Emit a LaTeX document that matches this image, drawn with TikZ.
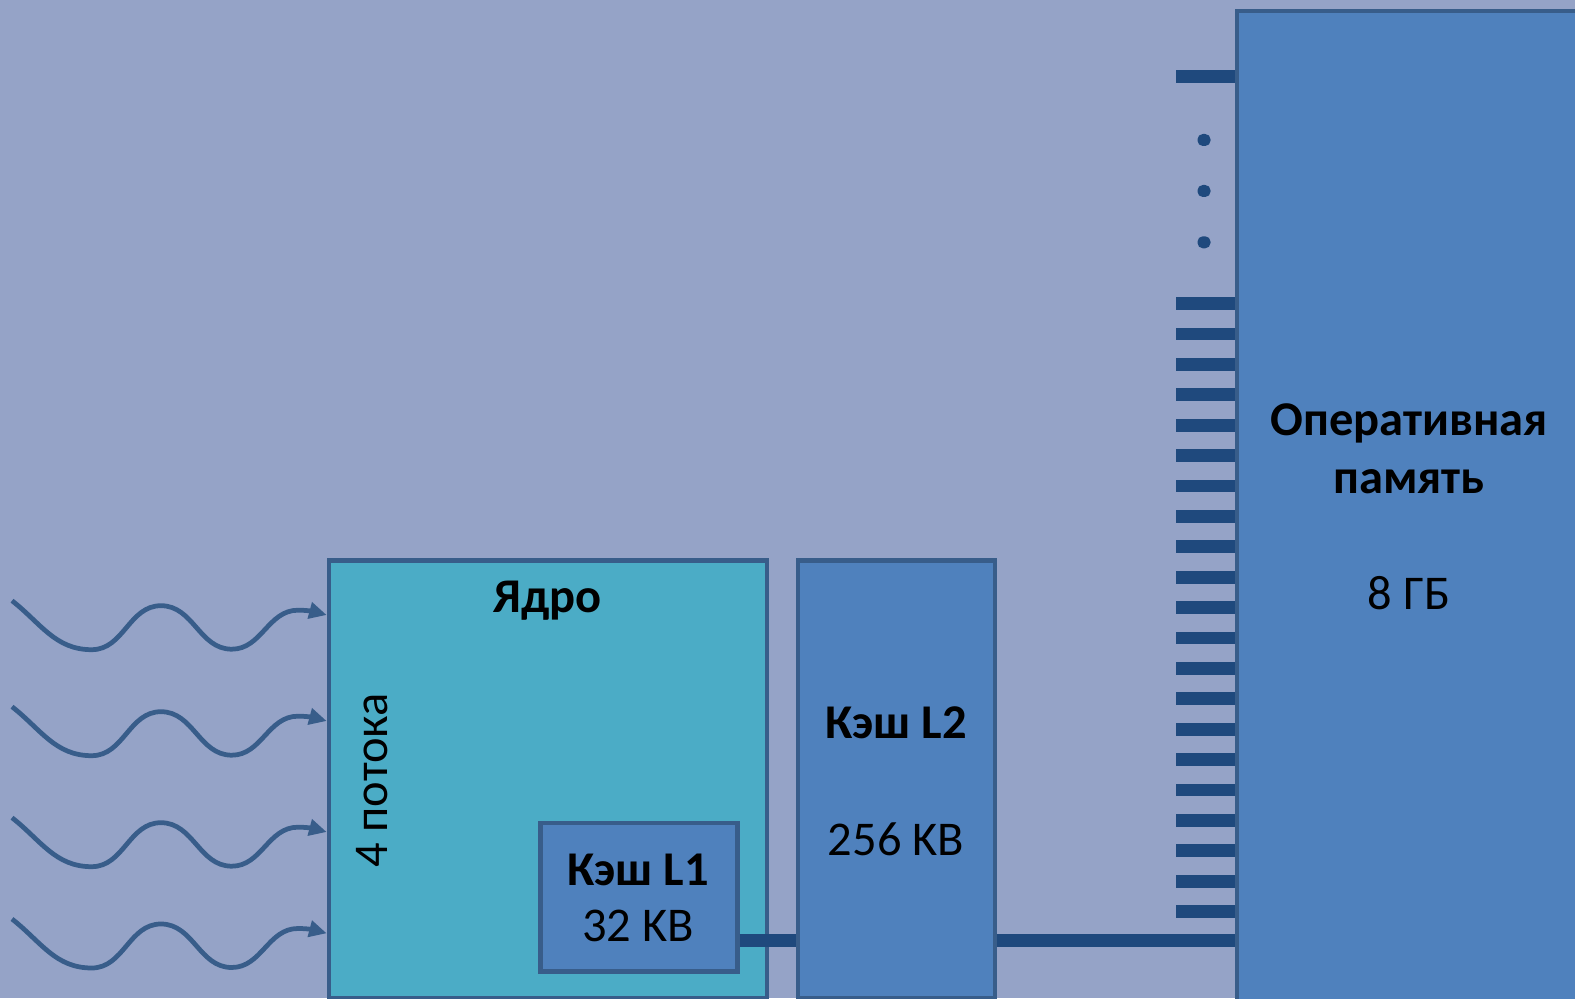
\documentclass[tikz,border=0pt]{standalone}
\usepackage{fontspec}
\setmainfont{Carlito}
\usetikzlibrary{arrows.meta,positioning,calc}
\definecolor{bgblue}{RGB}{149,163,199}
\definecolor{boxblue}{RGB}{79,129,189}
\definecolor{coreteal}{RGB}{75,172,198}
\definecolor{edgeblue}{RGB}{56,93,138}
\definecolor{busblue}{RGB}{31,73,125}

\begin{document}
\begin{tikzpicture}[x=1cm,y=1cm,
  unit/.style={draw=edgeblue,line width=1.2pt,fill=boxblue,inner sep=0pt,anchor=north west},
  bus/.style={busblue,line width=3.8pt},
  tick/.style={busblue,line width=3.6pt},
  wave/.style={edgeblue,line width=1.35pt,-{Triangle[length=5pt,width=4.6pt]}},
  lbl/.style={font=\fontsize{13.8}{16.5}\selectfont},
  blbl/.style={font=\fontsize{13.8}{16.5}\selectfont\bfseries}]
  \clip (0,0) rectangle (15.75,9.98);
  \fill[bgblue] (0,0) rectangle (15.75,9.98);
  % ---- core with L1, then L2 and memory
  \node[unit,fill=coreteal,minimum width=4.385cm,minimum height=4.375cm] (core) at (3.267,4.395) {};
  \node[unit,minimum width=1.97cm,minimum height=1.487cm] (l1) at (5.384,1.773) {};
  \node[unit,minimum width=1.97cm,minimum height=4.375cm] (l2) at (7.955,4.395) {};
  \node[unit,minimum width=4cm,minimum height=10.5cm] (ram) at (12.345,9.892) {};
  \node[blbl] (coretitle) at (5.475,3.973) {Ядро};
  \node[lbl,rotate=90] (threads) at (3.717,2.175) {4 потока};
  \node[blbl] (l1title) at (6.38,1.28) {Кэш L1};
  \node[lbl] (l1size) at (6.38,0.72) {32 KB};
  \node[blbl] (l2title) at (8.96,2.75) {Кэш L2};
  \node[lbl] (l2size) at (8.96,1.59) {256 KB};
  \node[blbl,align=center] (ramtitle) at (14.09,5.49) {Оперативная\\память};
  \node[lbl] (ramsize) at (14.09,4.05) {8 ГБ};
  % ---- bus between the levels
  \coordinate (busline) at (0,0.577);
  \draw[bus] (l1.east |- busline) -- (l2.west |- busline);
  \draw[bus] (l2.east |- busline) -- (ram.west |- busline);
  % ---- memory cells
  \draw[tick] (11.76,9.217) -- (ram.west |- 0,9.217);
  \foreach \yy in {8.58,8.07,7.557}
    \fill[busblue,rounded corners=1.5pt] (11.975,\yy-0.06) rectangle (12.105,\yy+0.06);
  \foreach \k [evaluate=\k as \yy using 6.944-0.304*\k] in {0,...,20}
    \draw[tick] (11.76,\yy) -- (ram.west |- 0,\yy);
  % ---- incoming threads
  \foreach \s [count=\i] in {3.973,2.913,1.803,0.790}{
    \coordinate (src\i) at (0.12,\s);
    \draw[wave] (src\i) to[out=-38,in=180] ++(0.797,-0.49)
      to[out=0,in=180] ++(0.693,0.44) to[out=0,in=180] ++(0.707,-0.435)
      to[out=0,in=180] ++(0.663,0.39) to[out=0,in=165] (core.west |- 0,{\s-0.143});
  }
\end{tikzpicture}
\end{document}
